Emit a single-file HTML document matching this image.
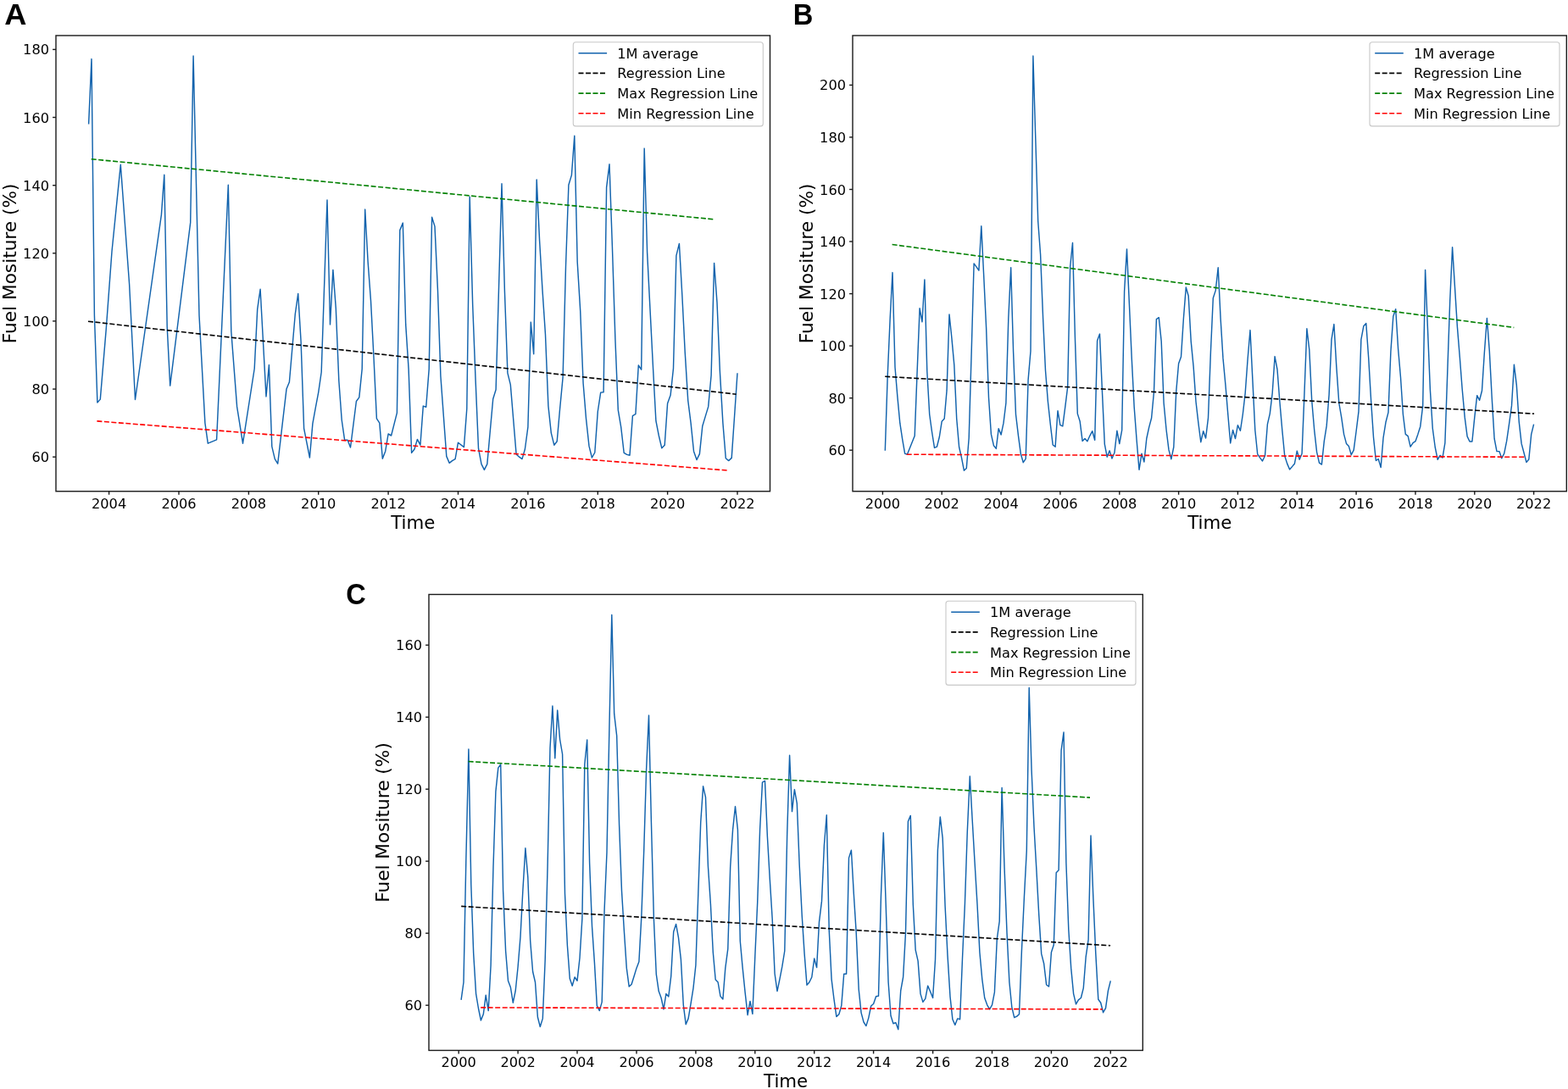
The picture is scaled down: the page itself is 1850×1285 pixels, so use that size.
<!DOCTYPE html>
<html lang="en">
<head>
<meta charset="utf-8">
<title>Fuel Moisture time series</title>
<style>
html,body{margin:0;padding:0;background:#fff;}
body{width:1850px;height:1285px;overflow:hidden;}
svg{display:block;}
</style>
</head>
<body>
<svg width="1850" height="1285" viewBox="0 0 1850 1285" font-family="'DejaVu Sans', 'Liberation Sans', sans-serif">
<rect width="1850" height="1285" fill="#fff"/>
<g id="panelA">
<polyline points="104.6,146.5 108,69.6 111.4,372.1 114.9,475.1 118.3,471.1 125.2,388.9 132,296.8 142.3,194.2 152.6,335.3 159.5,471.5 190.4,253.5 193.8,206.2 197.2,385.7 200.7,455.1 224.7,262.7 228.1,66 235,372.1 241.9,499.1 245.3,523.2 255.6,518.8 269.3,218.3 272.8,391 279.6,479.9 286.5,523.2 300.2,435 303.7,364.9 307.1,341.3 314,467.9 317.4,430.6 320.8,526.8 324.3,541.6 327.7,547.2 338,459.1 341.4,450.7 348.3,370.5 351.7,346.5 355.1,403 358.6,505.5 365.4,540 368.9,499.9 372.3,481.1 375.7,463.1 379.2,439 386,235.9 389.5,382.9 392.9,318.4 396.3,363.7 399.8,449 403.2,495.5 406.6,519.2 410.1,519.2 413.5,528 420.4,473.5 423.8,468.9 427.2,435.4 430.7,247.1 434.1,308.8 437.5,354.9 441,422.2 444.4,493.9 447.8,499.1 451.3,541.2 454.7,532.4 458.1,512 461.6,514 468.4,487.1 471.8,271.6 475.3,263.1 478.7,382.9 482.1,435.4 485.6,534.4 489,530 492.4,518.4 495.9,525.2 499.3,479.1 502.7,480.3 506.2,435.4 509.6,256.3 513,267.1 516.5,343.3 519.9,443.8 526.8,538.4 530.2,546.4 533.6,543.6 537.1,541.6 540.5,522.2 547.4,527.6 550.8,482.3 554.2,232.1 557.7,360.1 561.1,448.6 564.5,529.2 568,547.6 571.4,554.4 574.8,547.6 581.7,470.7 585.1,459.7 592,216.7 595.4,342.9 598.9,440.2 602.3,453.9 609.1,536 612.6,539.2 616,541.6 619.4,530 622.9,503.9 626.3,380.1 629.7,417.8 633.2,211.9 636.6,284 640,342.1 643.5,395 646.9,479.1 650.3,510.8 653.8,525.2 657.2,520.8 660.6,482.3 664.1,445.4 667.5,314.8 670.9,218.3 674.4,206.6 677.8,160.2 681.2,309.2 684.7,366.9 688.1,452.3 691.5,493.9 695,526.4 698.4,540 701.8,534 705.3,485.5 708.7,463.1 712.1,462.7 715.6,221.1 719,193.8 722.4,290.8 725.9,400.2 729.3,483.9 732.7,503.9 736.2,534.4 739.6,536.4 743,537.2 746.4,490.7 749.9,488.7 753.3,431 756.7,436.2 760.2,175.1 763.6,297.6 767,364.9 770.5,433.8 773.9,496.5 777.3,514 780.8,528.8 784.2,525.2 787.6,475.9 791.1,466.3 794.5,434.6 797.9,301.6 801.4,287.4 804.8,347.7 808.2,415.4 811.7,472.3 815.1,499.1 818.5,532.4 822,542.6 825.4,535.6 828.8,502.7 832.3,491.1 835.7,479.9 839.1,443 842.6,310.4 846,356.9 849.4,438.6 852.9,499.1 856.3,540.8 859.7,543.6 863.2,540.4 866.6,490.7 870,440.2" fill="none" stroke="#1263ad" stroke-width="1.45" stroke-linejoin="round" stroke-linecap="butt"/>
<line x1="104.0" y1="379.2" x2="868.7" y2="465.2" stroke="#000" stroke-width="1.6" stroke-dasharray="6.0 2.5"/>
<line x1="107.7" y1="187.7" x2="843.1" y2="258.9" stroke="#008000" stroke-width="1.6" stroke-dasharray="6.0 2.5"/>
<line x1="114.4" y1="496.9" x2="859.8" y2="555.2" stroke="#ff0000" stroke-width="1.6" stroke-dasharray="6.0 2.5"/>
<rect x="66.0" y="41.95" width="842.5" height="537.8" fill="none" stroke="#1a1a1a" stroke-width="1.4"/>
<line x1="128.6" y1="579.8" x2="128.6" y2="583.7" stroke="#1a1a1a" stroke-width="1.4"/>
<text x="128.6" y="599.80" font-size="16.2" text-anchor="middle">2004</text>
<line x1="211.0" y1="579.8" x2="211.0" y2="583.7" stroke="#1a1a1a" stroke-width="1.4"/>
<text x="211.0" y="599.80" font-size="16.2" text-anchor="middle">2006</text>
<line x1="293.4" y1="579.8" x2="293.4" y2="583.7" stroke="#1a1a1a" stroke-width="1.4"/>
<text x="293.4" y="599.80" font-size="16.2" text-anchor="middle">2008</text>
<line x1="375.7" y1="579.8" x2="375.7" y2="583.7" stroke="#1a1a1a" stroke-width="1.4"/>
<text x="375.7" y="599.80" font-size="16.2" text-anchor="middle">2010</text>
<line x1="458.1" y1="579.8" x2="458.1" y2="583.7" stroke="#1a1a1a" stroke-width="1.4"/>
<text x="458.1" y="599.80" font-size="16.2" text-anchor="middle">2012</text>
<line x1="540.5" y1="579.8" x2="540.5" y2="583.7" stroke="#1a1a1a" stroke-width="1.4"/>
<text x="540.5" y="599.80" font-size="16.2" text-anchor="middle">2014</text>
<line x1="622.9" y1="579.8" x2="622.9" y2="583.7" stroke="#1a1a1a" stroke-width="1.4"/>
<text x="622.9" y="599.80" font-size="16.2" text-anchor="middle">2016</text>
<line x1="705.3" y1="579.8" x2="705.3" y2="583.7" stroke="#1a1a1a" stroke-width="1.4"/>
<text x="705.3" y="599.80" font-size="16.2" text-anchor="middle">2018</text>
<line x1="787.6" y1="579.8" x2="787.6" y2="583.7" stroke="#1a1a1a" stroke-width="1.4"/>
<text x="787.6" y="599.80" font-size="16.2" text-anchor="middle">2020</text>
<line x1="870.0" y1="579.8" x2="870.0" y2="583.7" stroke="#1a1a1a" stroke-width="1.4"/>
<text x="870.0" y="599.80" font-size="16.2" text-anchor="middle">2022</text>
<line x1="62.1" y1="539.2" x2="66.0" y2="539.2" stroke="#1a1a1a" stroke-width="1.4"/>
<text x="58.0" y="545.2" font-size="16.2" text-anchor="end">60</text>
<line x1="62.1" y1="459.1" x2="66.0" y2="459.1" stroke="#1a1a1a" stroke-width="1.4"/>
<text x="58.0" y="465.1" font-size="16.2" text-anchor="end">80</text>
<line x1="62.1" y1="378.9" x2="66.0" y2="378.9" stroke="#1a1a1a" stroke-width="1.4"/>
<text x="58.0" y="384.9" font-size="16.2" text-anchor="end">100</text>
<line x1="62.1" y1="298.8" x2="66.0" y2="298.8" stroke="#1a1a1a" stroke-width="1.4"/>
<text x="58.0" y="304.8" font-size="16.2" text-anchor="end">120</text>
<line x1="62.1" y1="218.7" x2="66.0" y2="218.7" stroke="#1a1a1a" stroke-width="1.4"/>
<text x="58.0" y="224.7" font-size="16.2" text-anchor="end">140</text>
<line x1="62.1" y1="138.5" x2="66.0" y2="138.5" stroke="#1a1a1a" stroke-width="1.4"/>
<text x="58.0" y="144.5" font-size="16.2" text-anchor="end">160</text>
<line x1="62.1" y1="58.4" x2="66.0" y2="58.4" stroke="#1a1a1a" stroke-width="1.4"/>
<text x="58.0" y="64.4" font-size="16.2" text-anchor="end">180</text>
<text x="487.3" y="623.90" font-size="21.3" text-anchor="middle">Time</text>
<text transform="translate(18.6,310.9) rotate(-90)" font-size="21.65" text-anchor="middle">Fuel Mositure (%)</text>
<rect x="676.3" y="49.7" width="224.0" height="99.2" rx="3" ry="3" fill="#fff" fill-opacity="0.8" stroke="#c8c8c8" stroke-width="1.1"/>
<line x1="682.5" y1="62.7" x2="716.1" y2="62.7" stroke="#1263ad" stroke-width="1.6"/>
<text x="728.3" y="68.6" font-size="16.2">1M average</text>
<line x1="682.5" y1="86.4" x2="716.1" y2="86.4" stroke="#000" stroke-width="1.6" stroke-dasharray="6.0 2.5"/>
<text x="728.3" y="92.3" font-size="16.2">Regression Line</text>
<line x1="682.5" y1="110.1" x2="716.1" y2="110.1" stroke="#008000" stroke-width="1.6" stroke-dasharray="6.0 2.5"/>
<text x="728.3" y="116.0" font-size="16.2">Max Regression Line</text>
<line x1="682.5" y1="133.8" x2="716.1" y2="133.8" stroke="#ff0000" stroke-width="1.6" stroke-dasharray="6.0 2.5"/>
<text x="728.3" y="139.7" font-size="16.2">Min Regression Line</text>
<text transform="translate(5.2,28.8) scale(1.045,1)" font-family="'Liberation Sans', 'DejaVu Sans', sans-serif" font-weight="bold" font-size="34.7">A</text>
</g>
<g id="panelB">
<polyline points="1044.3,531.8 1047.2,443.5 1050.1,377.3 1053,321.6 1056,433.3 1058.9,468.4 1061.8,499.2 1064.7,518.3 1067.6,535.2 1070.5,536.1 1079.2,514.3 1082.1,438.9 1085.1,363.8 1088,379.8 1090.9,329.9 1093.8,438 1096.7,489 1099.6,510 1102.5,528.4 1105.4,527.2 1108.3,515.8 1111.2,497.3 1114.2,494 1117.1,460.4 1120,370.9 1122.9,398.9 1125.8,430.6 1128.7,494 1131.6,527.5 1134.5,540.1 1137.4,555.2 1140.3,552.4 1143.2,516.7 1146.2,414.9 1149.1,310.9 1152,314.9 1154.9,319.2 1157.8,266.8 1160.7,325.3 1163.6,386.2 1166.5,469 1169.4,512.4 1172.4,525.7 1175.3,529.4 1178.2,505.7 1181.1,513 1184,499.2 1186.9,475.5 1189.8,375.8 1192.7,315.8 1195.6,415.5 1198.5,489 1201.5,514.3 1204.4,535.8 1207.3,545.7 1210.2,541.4 1213.1,448.1 1216,414.3 1218.9,65.9 1221.8,163.4 1224.7,261 1227.6,300.2 1230.6,375.5 1233.5,437.3 1236.4,474 1239.3,500.7 1242.2,525 1245.1,527.2 1248,484.7 1250.9,501.7 1253.8,502.9 1256.7,480.7 1259.7,456.4 1262.6,315.3 1265.5,286.5 1268.4,397.9 1271.3,488.1 1274.2,497.3 1277.1,520.4 1280,517.4 1282.9,520.7 1285.8,514.3 1288.8,508.7 1291.7,519.2 1294.6,401.9 1297.5,394.1 1300.4,461 1303.3,524.1 1306.2,539.2 1309.1,531.8 1312,541 1314.9,534.3 1317.9,508.3 1320.8,523.5 1323.7,507.5 1326.6,343.8 1329.5,293.9 1332.4,358.9 1335.3,423.8 1338.2,480.7 1341.1,519.2 1344,554.3 1347,535.2 1349.9,545 1352.8,517.5 1355.7,504.1 1358.6,493.2 1361.5,462.3 1364.4,376.6 1367.3,374.7 1370.2,402.6 1373.1,475.5 1376.1,507.5 1379,530.9 1381.9,541.7 1384.8,527.5 1387.7,462.3 1390.6,429 1393.5,421 1396.4,375.8 1399.3,338.9 1402.2,349.2 1405.2,402.6 1408.1,432.4 1411,474 1413.9,499.2 1416.8,521.7 1419.7,508.7 1422.6,517 1425.5,493.2 1428.4,415.8 1431.3,351.8 1434.2,342.9 1437.2,315.8 1440.1,375.8 1443,422.9 1445.9,454 1448.8,489 1451.7,522.9 1454.6,507.5 1457.5,517.5 1460.4,501.7 1463.4,508.3 1466.3,489 1469.2,463.8 1472.1,423.8 1475,389.6 1477.9,448.4 1480.8,507.5 1483.7,535.8 1486.6,540.1 1489.5,544 1492.5,537.7 1495.4,500.7 1498.3,488.1 1501.2,463.8 1504.1,420.6 1507,436 1509.9,474 1512.8,507.5 1515.7,537.7 1518.6,546.9 1521.6,554 1524.5,550.6 1527.4,547.2 1530.3,532.1 1533.2,542.3 1536.1,535.2 1539,463.5 1541.9,387.8 1544.8,412.6 1547.7,472.3 1550.7,507.5 1553.6,533.4 1556.5,546.1 1559.4,548.1 1562.3,520.7 1565.2,502.4 1568.1,465.6 1571,400.6 1573.9,382.6 1576.8,432.4 1579.8,475.5 1582.7,492.4 1585.6,512.4 1588.5,523.4 1591.4,526.6 1594.3,536.7 1597.2,531.2 1600.1,509 1603,485.7 1605.9,400.6 1608.9,384.7 1611.8,381.5 1614.7,422.3 1617.6,472.3 1620.5,515.8 1623.4,543.5 1626.3,541.7 1629.2,551.5 1632.1,516.3 1635,498.3 1638,486.6 1640.9,414.7 1643.8,373.2 1646.7,364.7 1649.6,411.5 1652.5,445 1655.4,489 1658.3,512.4 1661.2,514.6 1664.1,527.2 1667.1,522.6 1670,520.7 1672.9,512.4 1675.8,503.2 1678.7,478.9 1681.6,318.5 1684.5,388.7 1687.4,460.1 1690.3,505.7 1693.2,527.5 1696.2,542.3 1699.1,537.4 1702,540.1 1704.9,522.6 1707.8,438.9 1710.7,355.5 1713.6,291.8 1716.5,338.9 1719.4,385.6 1722.3,421.3 1725.2,459.2 1728.2,492.4 1731.1,514.9 1734,521 1736.9,521 1739.8,492.4 1742.7,466.7 1745.6,472.3 1748.5,461 1751.4,415.5 1754.4,375.5 1757.3,413.9 1760.2,469 1763.1,517.5 1766,532.6 1768.9,532.6 1771.8,540.7 1774.7,535.2 1777.6,520.7 1780.5,500.7 1783.5,478.9 1786.4,430.3 1789.3,454.1 1792.2,497.3 1795.1,523.4 1798,534.3 1800.9,545.4 1803.8,542.1 1806.7,512.4 1809.6,500.7" fill="none" stroke="#1263ad" stroke-width="1.45" stroke-linejoin="round" stroke-linecap="butt"/>
<line x1="1044.2" y1="444.3" x2="1810.1" y2="488.2" stroke="#000" stroke-width="1.6" stroke-dasharray="6.0 2.5"/>
<line x1="1052.6" y1="288.5" x2="1786.3" y2="386.5" stroke="#008000" stroke-width="1.6" stroke-dasharray="6.0 2.5"/>
<line x1="1069.7" y1="536.2" x2="1800.6" y2="539.3" stroke="#ff0000" stroke-width="1.6" stroke-dasharray="6.0 2.5"/>
<rect x="1006.0" y="41.95" width="842.3" height="537.8" fill="none" stroke="#1a1a1a" stroke-width="1.4"/>
<line x1="1041.4" y1="579.8" x2="1041.4" y2="583.7" stroke="#1a1a1a" stroke-width="1.4"/>
<text x="1041.4" y="599.80" font-size="16.2" text-anchor="middle">2000</text>
<line x1="1111.2" y1="579.8" x2="1111.2" y2="583.7" stroke="#1a1a1a" stroke-width="1.4"/>
<text x="1111.2" y="599.80" font-size="16.2" text-anchor="middle">2002</text>
<line x1="1181.1" y1="579.8" x2="1181.1" y2="583.7" stroke="#1a1a1a" stroke-width="1.4"/>
<text x="1181.1" y="599.80" font-size="16.2" text-anchor="middle">2004</text>
<line x1="1250.9" y1="579.8" x2="1250.9" y2="583.7" stroke="#1a1a1a" stroke-width="1.4"/>
<text x="1250.9" y="599.80" font-size="16.2" text-anchor="middle">2006</text>
<line x1="1320.8" y1="579.8" x2="1320.8" y2="583.7" stroke="#1a1a1a" stroke-width="1.4"/>
<text x="1320.8" y="599.80" font-size="16.2" text-anchor="middle">2008</text>
<line x1="1390.6" y1="579.8" x2="1390.6" y2="583.7" stroke="#1a1a1a" stroke-width="1.4"/>
<text x="1390.6" y="599.80" font-size="16.2" text-anchor="middle">2010</text>
<line x1="1460.4" y1="579.8" x2="1460.4" y2="583.7" stroke="#1a1a1a" stroke-width="1.4"/>
<text x="1460.4" y="599.80" font-size="16.2" text-anchor="middle">2012</text>
<line x1="1530.3" y1="579.8" x2="1530.3" y2="583.7" stroke="#1a1a1a" stroke-width="1.4"/>
<text x="1530.3" y="599.80" font-size="16.2" text-anchor="middle">2014</text>
<line x1="1600.1" y1="579.8" x2="1600.1" y2="583.7" stroke="#1a1a1a" stroke-width="1.4"/>
<text x="1600.1" y="599.80" font-size="16.2" text-anchor="middle">2016</text>
<line x1="1670.0" y1="579.8" x2="1670.0" y2="583.7" stroke="#1a1a1a" stroke-width="1.4"/>
<text x="1670.0" y="599.80" font-size="16.2" text-anchor="middle">2018</text>
<line x1="1739.8" y1="579.8" x2="1739.8" y2="583.7" stroke="#1a1a1a" stroke-width="1.4"/>
<text x="1739.8" y="599.80" font-size="16.2" text-anchor="middle">2020</text>
<line x1="1809.6" y1="579.8" x2="1809.6" y2="583.7" stroke="#1a1a1a" stroke-width="1.4"/>
<text x="1809.6" y="599.80" font-size="16.2" text-anchor="middle">2022</text>
<line x1="1002.1" y1="531.2" x2="1006.0" y2="531.2" stroke="#1a1a1a" stroke-width="1.4"/>
<text x="998.0" y="537.2" font-size="16.2" text-anchor="end">60</text>
<line x1="1002.1" y1="469.7" x2="1006.0" y2="469.7" stroke="#1a1a1a" stroke-width="1.4"/>
<text x="998.0" y="475.7" font-size="16.2" text-anchor="end">80</text>
<line x1="1002.1" y1="408.1" x2="1006.0" y2="408.1" stroke="#1a1a1a" stroke-width="1.4"/>
<text x="998.0" y="414.1" font-size="16.2" text-anchor="end">100</text>
<line x1="1002.1" y1="346.6" x2="1006.0" y2="346.6" stroke="#1a1a1a" stroke-width="1.4"/>
<text x="998.0" y="352.6" font-size="16.2" text-anchor="end">120</text>
<line x1="1002.1" y1="285.0" x2="1006.0" y2="285.0" stroke="#1a1a1a" stroke-width="1.4"/>
<text x="998.0" y="291.0" font-size="16.2" text-anchor="end">140</text>
<line x1="1002.1" y1="223.5" x2="1006.0" y2="223.5" stroke="#1a1a1a" stroke-width="1.4"/>
<text x="998.0" y="229.5" font-size="16.2" text-anchor="end">160</text>
<line x1="1002.1" y1="161.9" x2="1006.0" y2="161.9" stroke="#1a1a1a" stroke-width="1.4"/>
<text x="998.0" y="167.9" font-size="16.2" text-anchor="end">180</text>
<line x1="1002.1" y1="100.4" x2="1006.0" y2="100.4" stroke="#1a1a1a" stroke-width="1.4"/>
<text x="998.0" y="106.4" font-size="16.2" text-anchor="end">200</text>
<text x="1427.2" y="623.90" font-size="21.3" text-anchor="middle">Time</text>
<text transform="translate(958.6,310.9) rotate(-90)" font-size="21.65" text-anchor="middle">Fuel Mositure (%)</text>
<rect x="1616.0" y="49.7" width="224.0" height="99.2" rx="3" ry="3" fill="#fff" fill-opacity="0.8" stroke="#c8c8c8" stroke-width="1.1"/>
<line x1="1622.2" y1="62.7" x2="1655.8" y2="62.7" stroke="#1263ad" stroke-width="1.6"/>
<text x="1668.0" y="68.6" font-size="16.2">1M average</text>
<line x1="1622.2" y1="86.4" x2="1655.8" y2="86.4" stroke="#000" stroke-width="1.6" stroke-dasharray="6.0 2.5"/>
<text x="1668.0" y="92.3" font-size="16.2">Regression Line</text>
<line x1="1622.2" y1="110.1" x2="1655.8" y2="110.1" stroke="#008000" stroke-width="1.6" stroke-dasharray="6.0 2.5"/>
<text x="1668.0" y="116.0" font-size="16.2">Max Regression Line</text>
<line x1="1622.2" y1="133.8" x2="1655.8" y2="133.8" stroke="#ff0000" stroke-width="1.6" stroke-dasharray="6.0 2.5"/>
<text x="1668.0" y="139.7" font-size="16.2">Min Regression Line</text>
<text transform="translate(935.8,28.9) scale(0.946,1)" font-family="'Liberation Sans', 'DejaVu Sans', sans-serif" font-weight="bold" font-size="34.5">B</text>
</g>
<g id="panelC">
<polyline points="544.1,1179.8 547,1159 549.9,1012 552.9,884 555.8,1043.8 558.7,1125.4 561.6,1172.6 564.5,1190 567.4,1204 570.3,1196.8 573.2,1174.3 576.2,1192.6 579.1,1139 582,1022.6 584.9,933.8 587.8,906.1 590.7,901.9 593.6,1051.1 596.6,1122 599.5,1157.3 602.4,1165 605.3,1183.2 608.2,1169.2 611.1,1140.7 614,1105.5 616.9,1050.2 619.9,1000.7 622.8,1034.9 625.7,1110.5 628.6,1146.5 631.5,1159 634.4,1200.2 637.3,1211.5 640.3,1201.9 643.2,1132.2 646.1,1020.9 649,882.8 651.9,833 654.8,894.7 657.7,838.1 660.6,872.5 663.6,890 666.5,1054.5 669.4,1115.7 672.3,1154.8 675.2,1163.2 678.1,1153 681,1157.3 684,1130.5 686.9,1083.8 689.8,901.9 692.7,873 695.6,1018.3 698.5,1092.7 701.4,1135.6 704.3,1186.6 707.3,1192.6 710.2,1182.4 713.1,1073.6 716,1005.6 718.9,859 721.8,725.5 724.7,842.4 727.7,868.3 730.6,973.7 733.5,1051.1 736.4,1098.7 739.3,1142.4 742.2,1164.1 745.1,1161.5 748,1152.2 751,1142.4 753.9,1134.8 756.8,1082.1 759.7,1003.9 762.6,907.8 765.5,844.1 768.4,969.5 771.4,1084.2 774.3,1149.7 777.2,1169.6 780.1,1177.5 783,1190.9 785.9,1172.6 788.8,1176 791.7,1152.2 794.7,1099.5 797.6,1090.4 800.5,1106.3 803.4,1132.2 806.3,1185.8 809.2,1208.7 812.1,1201.9 815.1,1184.1 818,1165.8 820.9,1139 823.8,1054.5 826.7,970.7 829.6,927.8 832.5,940.6 835.4,1021.7 838.4,1066.8 841.3,1123.7 844.2,1156 847.1,1159 850,1175.6 852.9,1179 855.8,1142.4 858.8,1119.7 861.7,1022.6 864.6,978.8 867.5,951.6 870.4,978.8 873.3,1110.5 876.2,1142.4 879.1,1170.9 882.1,1197.7 885,1181.5 887.9,1196.4 890.8,1128.8 893.7,1065.1 896.6,978.8 899.5,923.1 902.5,921.4 905.4,987.3 908.3,1037.5 911.2,1084.2 914.1,1149 917,1169.6 919.9,1155.6 922.8,1140.7 925.8,1122 928.7,984.3 931.6,891.2 934.5,957.6 937.4,931.6 940.3,947.8 943.2,1020.9 946.2,1080 949.1,1125.4 952,1162.4 954.9,1159 957.8,1153 960.7,1131 963.6,1141.6 966.5,1087.8 969.5,1063.4 972.4,997.5 975.3,961.8 978.2,1097 981.1,1155.6 984,1179.2 986.9,1199.6 989.9,1196.8 992.8,1186.6 995.7,1149.2 998.6,1149.2 1001.5,1012.4 1004.4,1003.2 1007.3,1054.5 1010.2,1100.4 1013.2,1167.5 1016.1,1195.1 1019,1206 1021.9,1210.6 1024.8,1201.1 1027.7,1187 1030.6,1184.5 1033.6,1175.8 1036.5,1175.2 1039.4,1058.7 1042.3,982.6 1045.2,1067.2 1048.1,1159 1051,1198.5 1053.9,1207.7 1056.9,1206.8 1059.8,1214.7 1062.7,1169.2 1065.6,1153 1068.5,1100.4 1071.4,969.2 1074.3,962.4 1077.3,1067.2 1080.2,1121.2 1083.1,1133.9 1086,1172.6 1088.9,1182.4 1091.8,1178.3 1094.7,1163.2 1097.6,1170 1100.6,1177.5 1103.5,1132.2 1106.4,1003 1109.3,963.9 1112.2,989.2 1115.1,1069.3 1118,1127.1 1121,1175.8 1123.9,1202.8 1126.8,1209.4 1129.7,1201.9 1132.6,1202.8 1135.5,1131 1138.4,1066.8 1141.3,980.9 1144.3,915.9 1147.2,967.8 1150.1,1018.3 1153,1066.8 1155.9,1123.7 1158.8,1155.6 1161.7,1177.5 1164.7,1185.8 1167.6,1190.9 1170.5,1185.8 1173.4,1170.9 1176.3,1108 1179.2,1087.2 1182.1,929.5 1185,1022.6 1188,1100.4 1190.9,1159 1193.8,1188.3 1196.7,1200.7 1199.6,1199.4 1202.5,1196.8 1205.4,1122.5 1208.4,1058.7 1211.3,1003.5 1214.2,811.4 1217.1,909.1 1220,975.8 1222.9,1026.8 1225.8,1080.4 1228.7,1125.4 1231.7,1137.3 1234.6,1162 1237.5,1164.1 1240.4,1123.7 1243.3,1114.8 1246.2,1029.8 1249.1,1026.8 1252.1,885.3 1255,864 1257.9,1018.3 1260.8,1097 1263.7,1142.4 1266.6,1172.6 1269.5,1184.9 1272.4,1179.8 1275.4,1177.5 1278.3,1165.8 1281.2,1128.8 1284.1,1108.9 1287,986 1289.9,1060.4 1292.8,1125.4 1295.8,1179.2 1298.7,1183.2 1301.6,1194.7 1304.5,1189.6 1307.4,1169.2 1310.3,1157.3" fill="none" stroke="#1263ad" stroke-width="1.45" stroke-linejoin="round" stroke-linecap="butt"/>
<line x1="544.2" y1="1069.4" x2="1310.1" y2="1115.8" stroke="#000" stroke-width="1.6" stroke-dasharray="6.0 2.5"/>
<line x1="552.6" y1="898.5" x2="1286.0" y2="941.1" stroke="#008000" stroke-width="1.6" stroke-dasharray="6.0 2.5"/>
<line x1="567.2" y1="1188.9" x2="1300.6" y2="1190.9" stroke="#ff0000" stroke-width="1.6" stroke-dasharray="6.0 2.5"/>
<rect x="506.0" y="701.45" width="842.3" height="538.0" fill="none" stroke="#1a1a1a" stroke-width="1.4"/>
<line x1="541.2" y1="1239.45" x2="541.2" y2="1243.4" stroke="#1a1a1a" stroke-width="1.4"/>
<text x="541.2" y="1258.80" font-size="16.2" text-anchor="middle">2000</text>
<line x1="611.1" y1="1239.45" x2="611.1" y2="1243.4" stroke="#1a1a1a" stroke-width="1.4"/>
<text x="611.1" y="1258.80" font-size="16.2" text-anchor="middle">2002</text>
<line x1="681.0" y1="1239.45" x2="681.0" y2="1243.4" stroke="#1a1a1a" stroke-width="1.4"/>
<text x="681.0" y="1258.80" font-size="16.2" text-anchor="middle">2004</text>
<line x1="751.0" y1="1239.45" x2="751.0" y2="1243.4" stroke="#1a1a1a" stroke-width="1.4"/>
<text x="751.0" y="1258.80" font-size="16.2" text-anchor="middle">2006</text>
<line x1="820.9" y1="1239.45" x2="820.9" y2="1243.4" stroke="#1a1a1a" stroke-width="1.4"/>
<text x="820.9" y="1258.80" font-size="16.2" text-anchor="middle">2008</text>
<line x1="890.8" y1="1239.45" x2="890.8" y2="1243.4" stroke="#1a1a1a" stroke-width="1.4"/>
<text x="890.8" y="1258.80" font-size="16.2" text-anchor="middle">2010</text>
<line x1="960.7" y1="1239.45" x2="960.7" y2="1243.4" stroke="#1a1a1a" stroke-width="1.4"/>
<text x="960.7" y="1258.80" font-size="16.2" text-anchor="middle">2012</text>
<line x1="1030.6" y1="1239.45" x2="1030.6" y2="1243.4" stroke="#1a1a1a" stroke-width="1.4"/>
<text x="1030.6" y="1258.80" font-size="16.2" text-anchor="middle">2014</text>
<line x1="1100.6" y1="1239.45" x2="1100.6" y2="1243.4" stroke="#1a1a1a" stroke-width="1.4"/>
<text x="1100.6" y="1258.80" font-size="16.2" text-anchor="middle">2016</text>
<line x1="1170.5" y1="1239.45" x2="1170.5" y2="1243.4" stroke="#1a1a1a" stroke-width="1.4"/>
<text x="1170.5" y="1258.80" font-size="16.2" text-anchor="middle">2018</text>
<line x1="1240.4" y1="1239.45" x2="1240.4" y2="1243.4" stroke="#1a1a1a" stroke-width="1.4"/>
<text x="1240.4" y="1258.80" font-size="16.2" text-anchor="middle">2020</text>
<line x1="1310.3" y1="1239.45" x2="1310.3" y2="1243.4" stroke="#1a1a1a" stroke-width="1.4"/>
<text x="1310.3" y="1258.80" font-size="16.2" text-anchor="middle">2022</text>
<line x1="502.1" y1="1186.2" x2="506.0" y2="1186.2" stroke="#1a1a1a" stroke-width="1.4"/>
<text x="498.0" y="1192.2" font-size="16.2" text-anchor="end">60</text>
<line x1="502.1" y1="1101.2" x2="506.0" y2="1101.2" stroke="#1a1a1a" stroke-width="1.4"/>
<text x="498.0" y="1107.2" font-size="16.2" text-anchor="end">80</text>
<line x1="502.1" y1="1016.2" x2="506.0" y2="1016.2" stroke="#1a1a1a" stroke-width="1.4"/>
<text x="498.0" y="1022.2" font-size="16.2" text-anchor="end">100</text>
<line x1="502.1" y1="931.2" x2="506.0" y2="931.2" stroke="#1a1a1a" stroke-width="1.4"/>
<text x="498.0" y="937.2" font-size="16.2" text-anchor="end">120</text>
<line x1="502.1" y1="846.2" x2="506.0" y2="846.2" stroke="#1a1a1a" stroke-width="1.4"/>
<text x="498.0" y="852.2" font-size="16.2" text-anchor="end">140</text>
<line x1="502.1" y1="761.2" x2="506.0" y2="761.2" stroke="#1a1a1a" stroke-width="1.4"/>
<text x="498.0" y="767.2" font-size="16.2" text-anchor="end">160</text>
<text x="927.1" y="1283.30" font-size="21.3" text-anchor="middle">Time</text>
<text transform="translate(458.6,970.5) rotate(-90)" font-size="21.65" text-anchor="middle">Fuel Mositure (%)</text>
<rect x="1116.0" y="709.2" width="224.0" height="99.2" rx="3" ry="3" fill="#fff" fill-opacity="0.8" stroke="#c8c8c8" stroke-width="1.1"/>
<line x1="1122.2" y1="722.2" x2="1155.8" y2="722.2" stroke="#1263ad" stroke-width="1.6"/>
<text x="1168.0" y="728.1" font-size="16.2">1M average</text>
<line x1="1122.2" y1="745.9" x2="1155.8" y2="745.9" stroke="#000" stroke-width="1.6" stroke-dasharray="6.0 2.5"/>
<text x="1168.0" y="751.8" font-size="16.2">Regression Line</text>
<line x1="1122.2" y1="769.6" x2="1155.8" y2="769.6" stroke="#008000" stroke-width="1.6" stroke-dasharray="6.0 2.5"/>
<text x="1168.0" y="775.5" font-size="16.2">Max Regression Line</text>
<line x1="1122.2" y1="793.3" x2="1155.8" y2="793.3" stroke="#ff0000" stroke-width="1.6" stroke-dasharray="6.0 2.5"/>
<text x="1168.0" y="799.2" font-size="16.2">Min Regression Line</text>
<text transform="translate(408.2,712.6) scale(0.91,1)" font-family="'Liberation Sans', 'DejaVu Sans', sans-serif" font-weight="bold" font-size="35.7">C</text>
</g>
</svg>
</body>
</html>
